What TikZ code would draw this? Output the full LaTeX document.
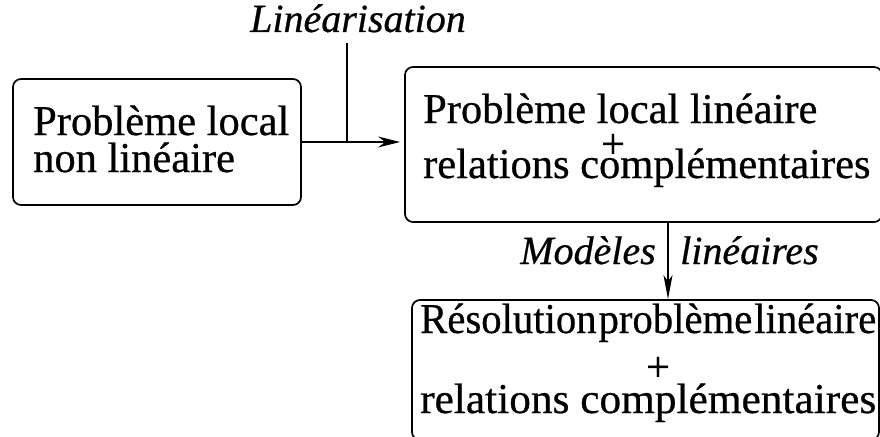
\documentclass[tikz,border=0pt]{standalone}
\usepackage{fontspec}
\setmainfont{Liberation Serif}[FakeBold=0.6]
\usetikzlibrary{arrows.meta}
\tikzset{
  box/.style={draw, line width=1.7pt, rounded corners=8pt, rectangle, inner sep=0pt},
  txt/.style={inner sep=0pt, font=\fontsize{42.5}{44}\selectfont},
  lab/.style={inner sep=0pt, font=\fontsize{40}{42}\selectfont\itshape},
  conn/.style={line width=1.6pt},
  arr/.style={line width=1.6pt, -{Stealth[length=22pt,width=11pt,inset=7pt]}},
  varr/.style={line width=1.6pt, -{Stealth[length=24pt,width=9pt,inset=6pt]}}
}
\begin{document}
\begin{tikzpicture}[x=1pt,y=-1pt]
\useasboundingbox (0,0) rectangle (880,436);
\clip (0,0) rectangle (880,436);
% boxes
\node[box, minimum width=288pt, minimum height=126pt] (b1) at (157,142) {};
\node[box, minimum width=477pt, minimum height=155pt] (b2) at (643.5,144.5) {};
\node[box, minimum width=467pt, minimum height=140pt] (b3) at (645.5,370) {};
% texts box 1
\node[txt, anchor=base west] (t11) at (33,135) {Problème local};
\node[txt, anchor=base west] (t12) at (33,172) {non linéaire};
% texts box 2
\node[txt, anchor=base west] (t21) at (423,123) {Problème local linéaire};
\node[txt] (t22) at (613,146) {+};
\node[txt, anchor=base west] (t23) at (423,178) {relations complémentaires};
% texts box 3
\node[txt, anchor=base west] (t31) at (420,333) {\resizebox{456pt}{\height}{Résolution\hspace{2pt}problème\hspace{2pt}linéaire}};
\node[txt] (t32) at (658,369) {+};
\node[txt, anchor=base west] (t33) at (420,413) {\resizebox{456pt}{\height}{relations complémentaires}};
% labels
\node[lab, anchor=base] (lin) at (358,32) {Linéarisation};
\node[lab, anchor=base east] (mod) at (656,264) {Modèles};
\node[lab, anchor=base west] (lnr) at (680,264) {linéaires};
% connectors
\coordinate (j) at (347,142);
\coordinate (lt) at (347,43);
\draw[conn] (lt) -- (j);
\draw[arr, shorten >=4pt] (b1.east) -- (b1.east -| b2.west);
\coordinate (a2) at (668,222);
\draw[varr] (b2.south -| a2) -- (b3.north -| a2);
\end{tikzpicture}
\end{document}
